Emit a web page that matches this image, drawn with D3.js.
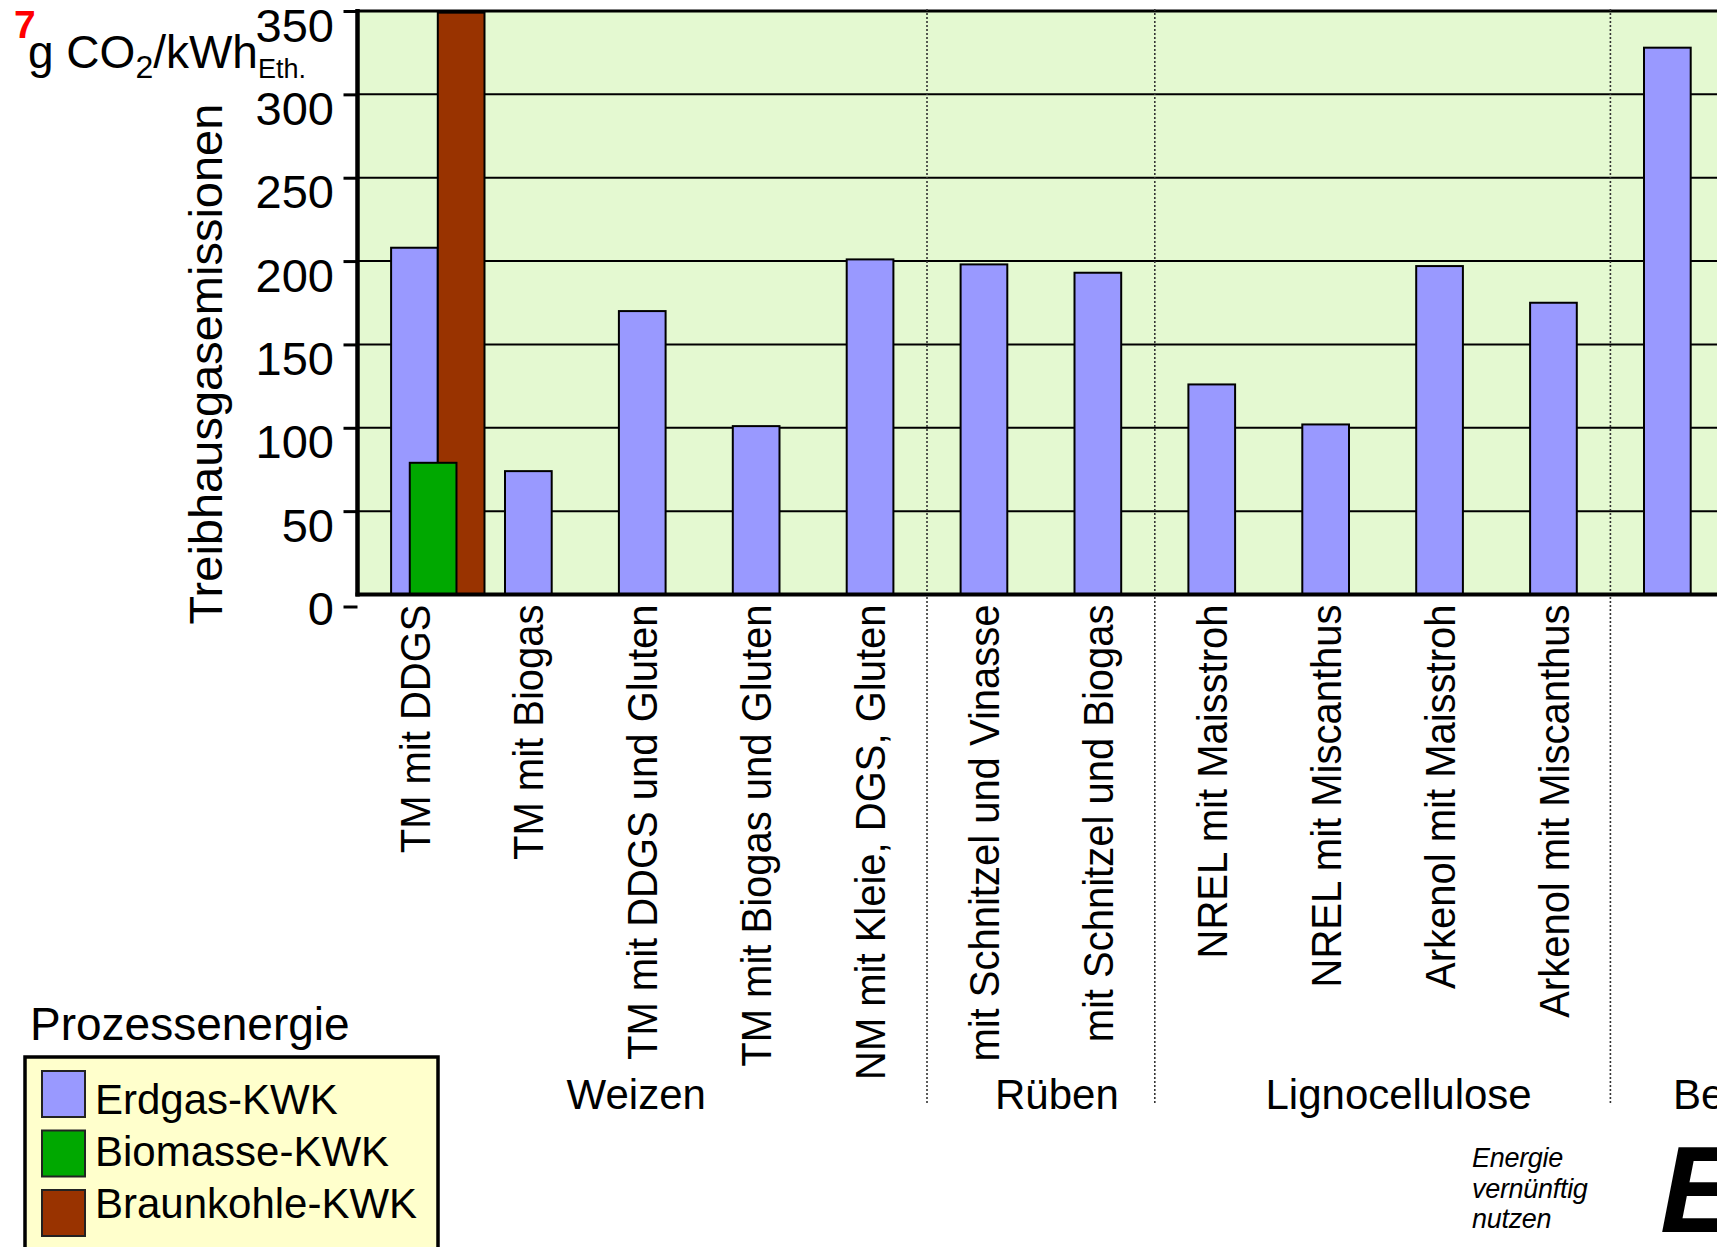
<!DOCTYPE html>
<html>
<head>
<meta charset="utf-8">
<script src="https://cdn.jsdelivr.net/npm/d3@7"></script>
<style>
  html, body { margin: 0; padding: 0; background: #fff; overflow: hidden; }
  svg { display: block; font-family: "Liberation Sans", Arial, Helvetica, sans-serif; }
</style>
</head>
<body>
<svg id="chart" width="1717" height="1247"></svg>
<script>
// ---- data ----
const categories = [
  "TM mit DDGS", "TM mit Biogas", "TM mit DDGS und Gluten", "TM mit Biogas und Gluten",
  "NM mit Kleie, DGS, Gluten", "mit Schnitzel und Vinasse", "mit Schnitzel und Biogas",
  "NREL mit Maisstroh", "NREL mit Miscanthus", "Arkenol mit Maisstroh", "Arkenol mit Miscanthus", ""
];
const erdgasKWK     = [208, 74, 170, 101, 201, 198, 193, 126, 102, 197, 175, 328];
const biomasseKWK   = [79, null, null, null, null, null, null, null, null, null, null, null];
const braunkohleKWK = [349, null, null, null, null, null, null, null, null, null, null, null];
const seriesNames   = ["Erdgas-KWK", "Biomasse-KWK", "Braunkohle-KWK"];
const seriesColors  = ["#9999ff", "#00a800", "#993300"];
const groupNames    = ["Weizen", "Rüben", "Lignocellulose", "Benzin"];
const groupFirst    = [0, 5, 7, 11];
const groupLast     = [4, 6, 10, 11];
const yTicks        = [0, 50, 100, 150, 200, 250, 300, 350];
const legendTitle   = "Prozessenergie";
const yTitle        = "Treibhausgasemissionen";

// ---- layout ----
const svg = d3.select("#chart");
const W = 1717;
const plotLeft = 357.5, plotTop = 11, plotBottom = 594.5, step = 113.9;

const x = d3.scaleBand()
  .domain(d3.range(categories.length))
  .range([plotLeft, plotLeft + step * categories.length])
  .paddingInner(0).paddingOuter(0);
const y = d3.scaleLinear().domain([0, 350]).range([plotBottom, plotTop]);
const bw = x.bandwidth() * 0.41;
const cx = i => x(i) + x.bandwidth() / 2;

// plot background
svg.append("rect")
  .attr("x", plotLeft).attr("y", y(350))
  .attr("width", W - plotLeft + 20).attr("height", y(0) - y(350))
  .attr("fill", "#e4f9d1");

// horizontal gridlines
svg.append("g").selectAll("line")
  .data(yTicks.filter(v => v > 0 && v < 350))
  .join("line")
  .attr("x1", plotLeft).attr("x2", W + 10)
  .attr("y1", d => y(d)).attr("y2", d => y(d))
  .attr("stroke", "#000").attr("stroke-width", 2);

// top border
svg.append("line")
  .attr("x1", plotLeft).attr("x2", W + 10)
  .attr("y1", y(350)).attr("y2", y(350))
  .attr("stroke", "#000").attr("stroke-width", 3);

// dotted separators between product groups
svg.append("g").selectAll("line")
  .data(groupLast.filter(i => i < categories.length - 1))
  .join("line")
  .attr("x1", d => x(d + 1)).attr("x2", d => x(d + 1))
  .attr("y1", y(350) - 2).attr("y2", 1103)
  .attr("stroke", "#333").attr("stroke-width", 1.6)
  .attr("stroke-dasharray", "2,2");

// bars: Erdgas centred, Braunkohle to the right, Biomasse overlapping in front
const seriesData = [erdgasKWK, biomasseKWK, braunkohleKWK];
const seriesOffset = [-0.5, -0.1, 0.5];
const drawOrder = [0, 2, 1];
drawOrder.forEach(s => {
  svg.append("g").selectAll("rect")
    .data(seriesData[s].map((v, i) => ({ v, i })).filter(d => d.v != null))
    .join("rect")
    .attr("x", d => cx(d.i) + seriesOffset[s] * bw)
    .attr("y", d => y(d.v))
    .attr("width", bw)
    .attr("height", d => y(0) - y(d.v))
    .attr("fill", seriesColors[s])
    .attr("stroke", "#000").attr("stroke-width", 2);
});

// axis lines
svg.append("line")
  .attr("x1", plotLeft - 2).attr("x2", W + 10)
  .attr("y1", plotBottom).attr("y2", plotBottom)
  .attr("stroke", "#000").attr("stroke-width", 4);
svg.append("line")
  .attr("x1", plotLeft).attr("x2", plotLeft)
  .attr("y1", y(350) - 2).attr("y2", plotBottom + 2)
  .attr("stroke", "#000").attr("stroke-width", 4.5);

// y axis ticks and labels
const yAxis = svg.append("g")
  .attr("transform", `translate(${plotLeft},0)`)
  .call(d3.axisLeft(y).tickValues(yTicks).tickSize(14).tickPadding(9.5).tickFormat(d3.format("d")));
yAxis.select(".domain").remove();
yAxis.selectAll(".tick line").attr("stroke", "#000").attr("stroke-width", 3);
yAxis.selectAll(".tick").filter(d => d === 0).select("line")
  .attr("transform", "translate(0,12)");
yAxis.selectAll(".tick text")
  .attr("dy", null).attr("y", 30)
  .attr("font-size", 47).attr("fill", "#000")
  .attr("font-family", "Liberation Sans, Arial, sans-serif");

// category labels (rotated)
svg.append("g").selectAll("text")
  .data(categories.map((c, i) => ({ c, i })))
  .join("text")
  .attr("transform", d => `translate(${cx(d.i)},${plotBottom + 10}) rotate(-90) scale(0.93,1)`)
  .attr("text-anchor", "end")
  .attr("dy", "0.35em")
  .attr("font-size", 43)
  .attr("fill", "#000")
  .text(d => d.c);

// product group labels
svg.append("g").selectAll("text")
  .data(groupNames.map((g, k) => ({ g, k })))
  .join("text")
  .attr("x", d => d.k === groupNames.length - 1
    ? x(groupFirst[d.k]) + x.bandwidth() * 0.55
    : (cx(groupFirst[d.k]) + cx(groupLast[d.k])) / 2 + (d.k === 0 ? -6 : 16))
  .attr("y", 1109)
  .attr("text-anchor", d => d.k === groupNames.length - 1 ? "start" : "middle")
  .attr("font-size", 42)
  .attr("fill", "#000")
  .text(d => d.g);

// y axis title
svg.append("text")
  .attr("transform", `translate(222,364) rotate(-90)`)
  .attr("text-anchor", "middle")
  .attr("font-size", 47)
  .attr("fill", "#000")
  .text(yTitle);

// unit label
const unit = svg.append("text")
  .attr("x", 28).attr("y", 68)
  .attr("font-size", 46).attr("fill", "#000");
unit.append("tspan").text("g CO");
unit.append("tspan").attr("font-size", 32).attr("dy", 10).text("2");
unit.append("tspan").attr("dy", -10).text("/kWh");
unit.append("tspan").attr("font-size", 27).attr("dy", 10).text("Eth.");

// slide number
svg.append("text")
  .attr("x", 14).attr("y", 38)
  .attr("font-size", 39).attr("font-weight", "bold")
  .attr("fill", "#ff0000")
  .text("7");

// legend
svg.append("text")
  .attr("x", 30).attr("y", 1040)
  .attr("font-size", 46).attr("fill", "#000")
  .text(legendTitle);
svg.append("rect")
  .attr("x", 25).attr("y", 1057)
  .attr("width", 413).attr("height", 220)
  .attr("fill", "#ffffcc")
  .attr("stroke", "#000").attr("stroke-width", 3.5);
const legend = svg.append("g");
seriesNames.forEach((name, i) => {
  legend.append("rect")
    .attr("x", 42).attr("y", 1071 + i * 59.5)
    .attr("width", 43).attr("height", 46)
    .attr("fill", seriesColors[i])
    .attr("stroke", "#222").attr("stroke-width", 2);
  legend.append("text")
    .attr("x", 95).attr("y", 1114 + i * 52)
    .attr("font-size", 42).attr("fill", "#000")
    .text(name);
});

// logo text
const slogan = ["Energie", "vernünftig", "nutzen"];
svg.append("g").selectAll("text")
  .data(slogan)
  .join("text")
  .attr("x", 1472)
  .attr("y", (d, i) => 1167 + i * 30.5)
  .attr("font-size", 27)
  .attr("font-style", "italic")
  .attr("letter-spacing", -0.3)
  .attr("fill", "#000")
  .text(d => d);
svg.append("text")
  .attr("x", 1660).attr("y", 1232)
  .attr("font-size", 123)
  .attr("font-weight", "bold").attr("font-style", "italic")
  .attr("fill", "#000")
  .text("E");
</script>
</body>
</html>
